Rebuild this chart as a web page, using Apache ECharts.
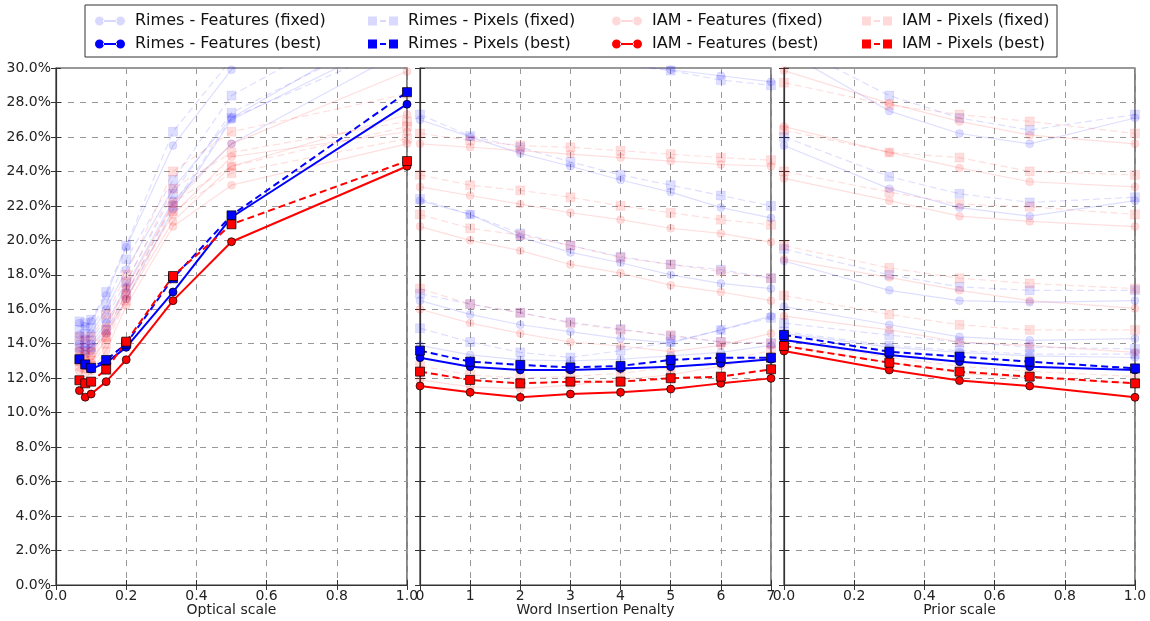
<!DOCTYPE html>
<html><head><meta charset="utf-8">
<script src="https://cdn.jsdelivr.net/npm/echarts@6/dist/echarts.min.js"></script>
<style>html,body{margin:0;padding:0;background:#fff}#c{width:1150px;height:621px}</style>
</head><body><div id="c"></div>
<script>
// ---- x values / ticks ----
const opticalScale = [0.0667, 0.0833, 0.1, 0.1429, 0.2, 0.3333, 0.5, 1.0];
const wordInsertionPenalty = [0, 1, 2, 3, 4, 5, 6, 7];
const priorScale = [0, 0.3, 0.5, 0.7, 1.0];
const axisNames = ['Optical scale', 'Word Insertion Penalty', 'Prior scale'];
const seriesNames = ['Rimes - Features (fixed)', 'Rimes - Pixels (fixed)', 'IAM - Features (fixed)', 'IAM - Pixels (fixed)',
                     'Rimes - Features (best)', 'Rimes - Pixels (best)', 'IAM - Features (best)', 'IAM - Pixels (best)'];

// ---- best curves (WER %) ----
const rimesFeatBestOptical = [13.1, 12.77, 12.53, 12.9, 13.79, 17.0, 21.34, 27.9];
const rimesPixBestOptical  = [13.1, 12.8, 12.6, 13.06, 14.0, 17.8, 21.45, 28.6];
const iamFeatBestOptical   = [11.28, 10.9, 11.08, 11.8, 13.07, 16.5, 19.92, 24.3];
const iamPixBestOptical    = [11.88, 11.7, 11.8, 12.5, 14.12, 17.93, 20.93, 24.6];

const rimesFeatBestWip = [13.19, 12.67, 12.48, 12.48, 12.57, 12.67, 12.86, 13.1];
const rimesPixBestWip  = [13.6, 12.96, 12.77, 12.63, 12.71, 13.06, 13.19, 13.19];
const iamFeatBestWip   = [11.55, 11.18, 10.89, 11.08, 11.18, 11.37, 11.7, 11.99];
const iamPixBestWip    = [12.38, 11.9, 11.7, 11.8, 11.8, 12.0, 12.09, 12.52];

const rimesFeatBestPrior = [14.22, 13.35, 12.96, 12.67, 12.48];
const rimesPixBestPrior  = [14.51, 13.54, 13.25, 12.96, 12.57];
const iamFeatBestPrior   = [13.58, 12.48, 11.86, 11.55, 10.89];
const iamPixBestPrior    = [13.87, 12.9, 12.38, 12.09, 11.7];

// ---- fixed curves (WER %) ----
const rimesFeatFixedOptical = [
  [15.2, 15.0, 15.3, 16.8, 19.6, 25.5, 29.9, 36.0],
  [14.5, 14.3, 14.6, 16.0, 18.3, 23.0, 27.1, 33.0],
  [14.0, 13.8, 14.0, 15.2, 17.3, 22.3, 25.6, 31.1],
  [13.6, 13.4, 13.6, 14.6, 16.6, 21.8, 27.0, 32.0]];
const rimesPixFixedOptical = [
  [15.3, 15.2, 15.4, 17.0, 19.7, 26.3, 30.5, 37.0],
  [14.8, 14.6, 14.9, 16.3, 18.9, 23.5, 28.4, 34.0],
  [14.2, 14.0, 14.2, 15.5, 17.6, 22.7, 27.4, 32.5],
  [13.8, 13.6, 13.8, 14.8, 16.9, 22.0, 27.1, 31.5]];
const iamFeatFixedOptical = [
  [13.8, 13.6, 13.8, 15.0, 17.2, 22.1, 25.6, 29.8],
  [12.9, 12.7, 12.9, 14.3, 16.6, 21.1, 24.3, 27.3],
  [12.4, 12.3, 12.4, 13.6, 16.2, 20.8, 23.2, 25.6],
  [13.3, 13.1, 13.3, 14.6, 17.0, 21.5, 24.85, 26.3]];
const iamPixFixedOptical = [
  [14.4, 14.2, 14.4, 15.7, 18.0, 24.0, 26.3, 28.5],
  [13.5, 13.3, 13.5, 14.8, 17.5, 23.0, 25.1, 26.9],
  [12.7, 12.6, 12.7, 14.0, 16.5, 21.7, 23.9, 25.9],
  [13.0, 12.8, 13.0, 14.4, 16.8, 22.2, 24.3, 26.6]];

const rimesFeatFixedWip = [
  [31.5, 31.2, 30.9, 30.5, 30.2, 29.9, 29.55, 29.2],
  [27.0, 26.0, 25.05, 24.3, 23.5, 22.8, 21.9, 21.3],
  [22.3, 21.5, 20.2, 19.3, 18.7, 18.0, 17.5, 17.2],
  [16.5, 15.7, 15.1, 14.7, 14.3, 14.05, 14.8, 15.6],
  [13.9, 13.35, 13.06, 13.0, 13.1, 13.3, 13.5, 13.9]];
const rimesPixFixedWip = [
  [31.8, 31.4, 31.0, 30.6, 30.2, 29.85, 29.3, 29.0],
  [27.3, 26.05, 25.4, 24.55, 23.8, 23.2, 22.6, 22.0],
  [22.4, 21.5, 20.4, 19.7, 19.05, 18.6, 18.3, 17.8],
  [16.9, 16.3, 15.8, 15.25, 14.85, 14.45, 14.1, 14.05],
  [14.9, 14.1, 13.5, 13.2, 13.6, 14.1, 14.8, 15.5]];
const iamFeatFixedWip = [
  [25.6, 25.4, 25.2, 25.0, 24.8, 24.6, 24.4, 24.3],
  [23.1, 22.6, 22.1, 21.6, 21.2, 20.7, 20.4, 19.9],
  [20.8, 20.0, 19.4, 18.6, 18.1, 17.4, 17.0, 16.5],
  [16.0, 15.2, 14.6, 14.1, 13.87, 13.54, 13.9, 14.6],
  [11.9, 11.5, 11.4, 11.6, 11.9, 12.2, 12.7, 13.3]];
const iamPixFixedWip = [
  [26.2, 25.8, 25.5, 25.4, 25.2, 25.0, 24.8, 24.65],
  [23.8, 23.2, 22.9, 22.5, 22.0, 21.6, 21.2, 20.9],
  [21.5, 20.7, 20.3, 19.7, 19.0, 18.6, 18.2, 17.8],
  [17.2, 16.3, 15.8, 15.2, 14.8, 14.5, 14.1, 14.0],
  [12.7, 12.2, 12.0, 12.1, 12.3, 12.6, 13.0, 13.6]];

const rimesFeatFixedPrior = [
  [31.0, 27.5, 26.2, 25.6, 27.1],
  [25.5, 23.0, 21.9, 21.4, 22.3],
  [18.8, 17.1, 16.5, 16.4, 16.5],
  [16.15, 15.1, 14.4, 14.2, 14.3],
  [14.6, 13.8, 13.5, 13.3, 13.2]];
const rimesPixFixedPrior = [
  [31.5, 28.4, 27.1, 26.4, 27.3],
  [26.0, 23.7, 22.7, 22.2, 22.5],
  [19.5, 18.0, 17.3, 17.1, 17.1],
  [15.2, 14.5, 14.1, 13.8, 13.7],
  [14.7, 13.9, 13.6, 13.4, 13.4]];
const iamFeatFixedPrior = [
  [29.85, 27.95, 26.9, 26.1, 25.6],
  [26.6, 25.1, 24.2, 23.4, 23.1],
  [23.6, 22.3, 21.4, 21.1, 20.8],
  [18.9, 17.85, 17.1, 16.5, 16.05],
  [15.6, 14.8, 14.1, 13.9, 13.5],
  [13.9, 12.9, 12.3, 12.0, 11.7]];
const iamPixFixedPrior = [
  [29.15, 27.85, 27.3, 26.9, 26.2],
  [26.4, 25.1, 24.8, 24.0, 23.8],
  [24.0, 22.8, 22.1, 21.95, 21.5],
  [19.7, 18.4, 17.8, 17.5, 17.2],
  [16.8, 15.7, 15.1, 14.8, 14.8],
  [14.2, 13.2, 12.7, 12.4, 12.1]];

// ---- build chart ----
const BLUE = '#0000ff', RED = '#ff0000';
const FAINT = 0.13;
const FONT = 'DejaVu Sans';
const gridLefts = [56, 420, 784];
const xMins = [0, 0, 0], xMaxs = [1, 7, 1], xIntervals = [0.2, 1, 0.2];
const xDigits = [1, 0, 1];

function mk(name, xs, ys, gi, color, dashed, sym, faint) {
  return {
    name, type: 'line', xAxisIndex: gi, yAxisIndex: gi,
    data: xs.map((x, k) => [x, ys[k]]),
    symbol: sym, symbolSize: sym === 'rect' ? 9 : 8, showSymbol: true,
    lineStyle: { color, width: faint ? 1.2 : 2, type: dashed ? [7, 4] : 'solid', opacity: faint ? FAINT : 1 },
    itemStyle: { color, opacity: faint ? FAINT : 1, borderColor: faint ? color : '#000', borderWidth: faint ? 0.6 : 0.7 },
    z: faint ? 2 : 5, silent: true, animation: false, clip: true
  };
}

const xsets = [opticalScale, wordInsertionPenalty, priorScale];
const fixedSets = [
  [rimesFeatFixedOptical, rimesPixFixedOptical, iamFeatFixedOptical, iamPixFixedOptical],
  [rimesFeatFixedWip, rimesPixFixedWip, iamFeatFixedWip, iamPixFixedWip],
  [rimesFeatFixedPrior, rimesPixFixedPrior, iamFeatFixedPrior, iamPixFixedPrior]];
const bestSets = [
  [rimesFeatBestOptical, rimesPixBestOptical, iamFeatBestOptical, iamPixBestOptical],
  [rimesFeatBestWip, rimesPixBestWip, iamFeatBestWip, iamPixBestWip],
  [rimesFeatBestPrior, rimesPixBestPrior, iamFeatBestPrior, iamPixBestPrior]];
const styleOf = [
  { color: BLUE, dashed: false, sym: 'circle' },
  { color: BLUE, dashed: true, sym: 'rect' },
  { color: RED, dashed: false, sym: 'circle' },
  { color: RED, dashed: true, sym: 'rect' }];

const series = [];
for (let g = 0; g < 3; g++) {
  for (let s = 0; s < 4; s++) {
    const st = styleOf[s];
    fixedSets[g][s].forEach(arr => series.push(mk(seriesNames[s], xsets[g], arr, g, st.color, st.dashed, st.sym, true)));
  }
}
for (let g = 0; g < 3; g++) {
  for (let s = 0; s < 4; s++) {
    const st = styleOf[s];
    series.push(mk(seriesNames[4 + s], xsets[g], bestSets[g][s], g, st.color, st.dashed, st.sym, false));
  }
}

const grids = gridLefts.map(l => ({ left: l, top: 68, width: 351, height: 517, show: true,
  borderColor: '#333', borderWidth: 1.2, backgroundColor: 'transparent',
  containLabel: false, outerBoundsMode: 'none' }));
const xAxes = [], yAxes = [];
for (let g = 0; g < 3; g++) {
  xAxes.push({
    gridIndex: g, type: 'value', min: xMins[g], max: xMaxs[g], interval: xIntervals[g],
    axisLine: { show: true, onZero: false, lineStyle: { color: '#333', width: 1.2 } },
    axisTick: { show: true, inside: true, length: 5, lineStyle: { color: '#333' } },
    axisLabel: { formatter: v => v.toFixed(xDigits[g]), color: '#222', fontSize: 14, fontFamily: FONT, margin: 4 },
    splitLine: { show: true, lineStyle: { type: [6, 6], color: '#999', width: 1 } },
    name: axisNames[g], nameLocation: 'middle', nameGap: 18, nameMoveOverlap: false,
    nameTextStyle: { fontSize: 14, color: '#222', fontFamily: FONT }
  });
  yAxes.push({
    gridIndex: g, type: 'value', min: 0, max: 30, interval: 2,
    axisLine: { show: true, lineStyle: { color: '#333', width: 1.2 } },
    axisTick: { show: true, inside: true, length: 5, lineStyle: { color: '#333' } },
    axisLabel: { show: g === 0, formatter: v => v.toFixed(1) + '%', color: '#222', fontSize: 14, fontFamily: FONT, margin: 5 },
    splitLine: { show: true, lineStyle: { type: [6, 6], color: '#999', width: 1 } }
  });
}
for (let g = 0; g < 3; g++) {
  xAxes.push({
    gridIndex: g, type: 'value', position: 'top', min: xMins[g], max: xMaxs[g], interval: xIntervals[g],
    axisLine: { show: false }, axisLabel: { show: false }, splitLine: { show: false },
    axisTick: { show: true, inside: true, length: 5, lineStyle: { color: '#333' } }
  });
  yAxes.push({
    gridIndex: g, type: 'value', position: 'right', min: 0, max: 30, interval: 2,
    axisLine: { show: false }, axisLabel: { show: false }, splitLine: { show: false },
    axisTick: { show: true, inside: true, length: 5, lineStyle: { color: '#333' } }
  });
}

const circIcon = 'path://M0,4.5a4.5,4.5 0 1,0 9,0a4.5,4.5 0 1,0 -9,0Z M8,3.5h14v2h-14Z M21,4.5a4.5,4.5 0 1,0 9,0a4.5,4.5 0 1,0 -9,0Z';
const sqIcon = 'path://M0,0h9v9h-9Z M12,3.5h6v2h-6Z M21,0h9v9h-9Z';
const colLefts = [95, 368, 612, 862];
const rowTops = [13, 36];
const legends = [];
for (let i = 0; i < 8; i++) {
  const s = i % 4, row = i < 4 ? 0 : 1;
  const faint = row === 0;
  legends.push({
    data: [{ name: seriesNames[i], icon: styleOf[s].sym === 'rect' ? sqIcon : circIcon,
             itemStyle: { color: styleOf[s].color, opacity: faint ? 0.15 : 1, borderWidth: 0 } }],
    left: colLefts[s], top: rowTops[row], orient: 'horizontal', padding: 0,
    itemWidth: 30, itemHeight: 9, selectedMode: false, z: 10,
    textStyle: { fontSize: 16, color: '#111', fontFamily: FONT, padding: [0, 0, 0, 5] }
  });
}

const chart = echarts.init(document.getElementById('c'), null, { renderer: 'canvas' });
chart.setOption({
  animation: false,
  backgroundColor: '#fff',
  grid: grids, xAxis: xAxes, yAxis: yAxes,
  legend: legends,
  graphic: [{ type: 'rect', shape: { x: 85, y: 5, width: 972, height: 52 }, style: { fill: '#fff', stroke: '#333', lineWidth: 1 }, z: 0 }],
  series
});
</script></body></html>
